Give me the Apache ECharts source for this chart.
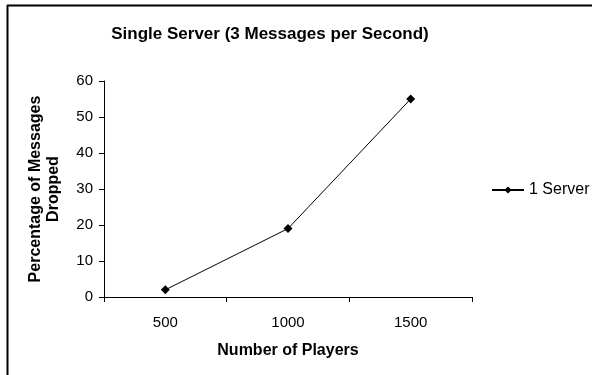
<!DOCTYPE html>
<html>
<head>
<meta charset="utf-8">
<script src="https://cdn.jsdelivr.net/npm/echarts@6/dist/echarts.min.js"></script>
<style>
  html, body { margin: 0; padding: 0; background: #fff; }
  #chart { width: 592px; height: 375px; }
</style>
</head>
<body>
<div id="chart"></div>
<script>
// Players per run and share of messages that were dropped (%)
const players = ['500', '1000', '1500'];
const droppedOneServer = [2, 19, 55];
const yTicks = { min: 0, max: 60, step: 10 };

const FONT = '"Liberation Sans", Arial, sans-serif';

const chart = echarts.init(document.getElementById('chart'), null, { renderer: 'canvas' });

chart.setOption({
  backgroundColor: '#ffffff',
  animation: false,
  textStyle: { fontFamily: FONT, color: '#000' },
  title: {
    text: 'Single Server (3 Messages per Second)',
    left: 265,
    textAlign: 'center',
    top: 21,
    textStyle: { fontFamily: FONT, fontSize: 17, fontWeight: 'bold', color: '#000' }
  },
  legend: {
    data: ['1 Server'],
    left: 491,
    top: 182,
    padding: 0,
    orient: 'vertical',
    itemWidth: 32,
    itemHeight: 9,
    textStyle: { fontFamily: FONT, fontSize: 16, color: '#000' }
  },
  grid: { left: 104, right: 120, top: 81, bottom: 78, containLabel: false },
  xAxis: {
    type: 'category',
    data: players,
    boundaryGap: true,
    name: 'Number of Players',
    nameLocation: 'middle',
    nameGap: 46,
    nameTextStyle: { fontFamily: FONT, fontSize: 16, fontWeight: 'bold', color: '#000' },
    axisLine: { lineStyle: { color: '#000', width: 1 } },
    axisTick: { show: true, length: 5, inside: false, lineStyle: { color: '#000' } },
    axisLabel: { fontFamily: FONT, fontSize: 15, color: '#000', margin: 18 },
    splitLine: { show: false }
  },
  yAxis: {
    type: 'value',
    min: yTicks.min,
    max: yTicks.max,
    interval: yTicks.step,
    name: 'Percentage of Messages\nDropped',
    nameLocation: 'middle',
    nameGap: 41,
    nameTextStyle: { fontFamily: FONT, fontSize: 16, fontWeight: 'bold', color: '#000', lineHeight: 18 },
    axisLine: { show: true, lineStyle: { color: '#000', width: 1 } },
    axisTick: { show: true, length: 5, lineStyle: { color: '#000' } },
    axisLabel: { fontFamily: FONT, fontSize: 15, color: '#000', margin: 11 },
    splitLine: { show: false }
  },
  series: [{
    name: '1 Server',
    type: 'line',
    data: droppedOneServer,
    symbol: 'diamond',
    symbolSize: 9,
    itemStyle: { color: '#000' },
    lineStyle: { color: '#000', width: 1 }
  }],
  graphic: [
    { type: 'line', shape: { x1: 7.5, y1: 5, x2: 7.5, y2: 375 }, style: { stroke: '#000', lineWidth: 2 } },
    { type: 'line', shape: { x1: 7, y1: 5.5, x2: 592, y2: 5.5 }, style: { stroke: '#000', lineWidth: 2 } }
  ]
});
</script>
</body>
</html>
